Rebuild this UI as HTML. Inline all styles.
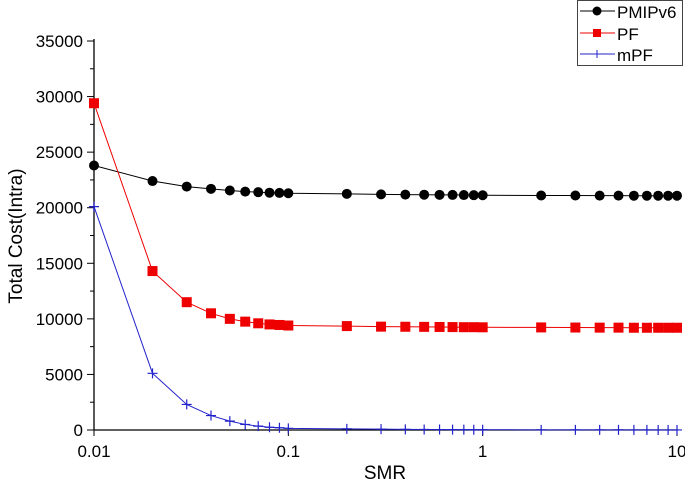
<!DOCTYPE html>
<html><head><meta charset="utf-8"><style>
body{margin:0;background:#fff;}
svg text{font-family:"Liberation Sans",sans-serif;}
</style></head><body>
<svg id="chart" width="685" height="486" xmlns="http://www.w3.org/2000/svg">
<g id="axes"></g>
<g id="marks"></g>
<text x="385" y="479" font-size="19" text-anchor="middle">SMR</text>
<text transform="translate(22,236) rotate(-90)" font-size="19" text-anchor="middle">Total Cost(Intra)</text>
<g>
<rect x="577.5" y="0.5" width="105" height="65" fill="#fff" stroke="#444" stroke-width="1"/>
<g><line x1="580" y1="11" x2="615" y2="11" stroke="#000"/><circle cx="597" cy="11" r="4.5" fill="#000"/><text x="617" y="18" font-size="17">PMIPv6</text></g>
<g><line x1="580" y1="33" x2="615" y2="33" stroke="#e00"/><rect x="593" y="29" width="8" height="8" fill="#e00"/><text x="617" y="40" font-size="17">PF</text></g>
<g><line x1="580" y1="54" x2="615" y2="54" stroke="#22c"/><path d="M593 54h8M597 50v8" stroke="#22c"/><text x="617" y="61" font-size="17">mPF</text></g>
</g>
</svg>
<script>
const xs=[0.01,0.02,0.03,0.04,0.05,0.06,0.07,0.08,0.09,0.1,0.2,0.3,0.4,0.5,0.6,0.7,0.8,0.9,1,2,3,4,5,6,7,8,9,10];
const pmip=[23800,22400,21900,21700,21550,21450,21400,21350,21330,21300,21250,21200,21180,21170,21160,21150,21140,21130,21120,21100,21100,21090,21090,21080,21080,21080,21080,21080];
const pf=[29400,14300,11500,10500,10000,9750,9600,9500,9450,9400,9350,9300,9290,9280,9270,9260,9250,9250,9240,9230,9220,9210,9210,9200,9200,9200,9200,9200];
const mpf=[20100,5100,2300,1300,800,500,350,250,200,150,100,80,60,50,40,35,30,25,20,15,12,10,8,7,6,5,5,5];
const yTicks=[0,5000,10000,15000,20000,25000,30000,35000];
const xTicks=[0.01,0.1,1,10];
const xTickLabels=["0.01","0.1","1","10"];
const X0=94,X1=677,Y0=430,Y1=41;
function sx(v){return X0+(Math.log10(v)+2)/3*(X1-X0);}
function sy(v){return Y0-(v/35000)*(Y0-Y1);}
const NS="http://www.w3.org/2000/svg";
function mk(t,a,p){const e=document.createElementNS(NS,t);for(const k in a)e.setAttribute(k,a[k]);p.appendChild(e);return e;}
const ax=document.getElementById('axes');
let l=mk('line',{x1:X0,y1:Y1-2,x2:X0,y2:Y0,stroke:'#000','stroke-width':1.3},ax);


l=mk('line',{x1:X0,y1:Y0,x2:X1,y2:Y0,stroke:'#000','stroke-width':1.3},ax);


for(let v=0;v<=35000;v+=2500){const y=sy(v);mk('line',{x1:X0-(v%5000?4:7),y1:y,x2:X0,y2:y,stroke:'#000'},ax);}
yTicks.forEach(v=>{const t=mk('text',{x:X0-11,y:sy(v)+6,'font-size':17,'text-anchor':'end'},ax);t.textContent=v;

});
xTicks.forEach((v,i)=>{const x=sx(v);mk('line',{x1:x,y1:Y0,x2:x,y2:Y0+6,stroke:'#000'},ax);
const t=mk('text',{x:x,y:Y0+27,'font-size':17,'text-anchor':'middle'},ax);t.textContent=xTickLabels[i];

});
const mg=document.getElementById('marks');
function series(vals,color,kind,name){
 const g=mk('g',{},mg);
 
 
 mk('polyline',{points:vals.map((v,i)=>sx(xs[i])+','+sy(v)).join(' '),fill:'none',stroke:color,'stroke-width':1},g);
 vals.forEach((v,i)=>{const x=sx(xs[i]),y=sy(v);let m;
  if(kind==='c')m=mk('circle',{cx:x,cy:y,r:5,fill:color},g);
  else if(kind==='s')m=mk('rect',{x:x-5,y:y-5,width:10,height:10,fill:color},g);
  else m=mk('path',{d:`M${x-5} ${y}h10M${x} ${y-5}v10`,stroke:color,'stroke-width':1.2},g);
  
  });
}
series(pmip,'#000','c','series-pmipv6');
series(pf,'#e00','s','series-pf');
series(mpf,'#22c','p','series-mpf');
</script>
</body></html>
